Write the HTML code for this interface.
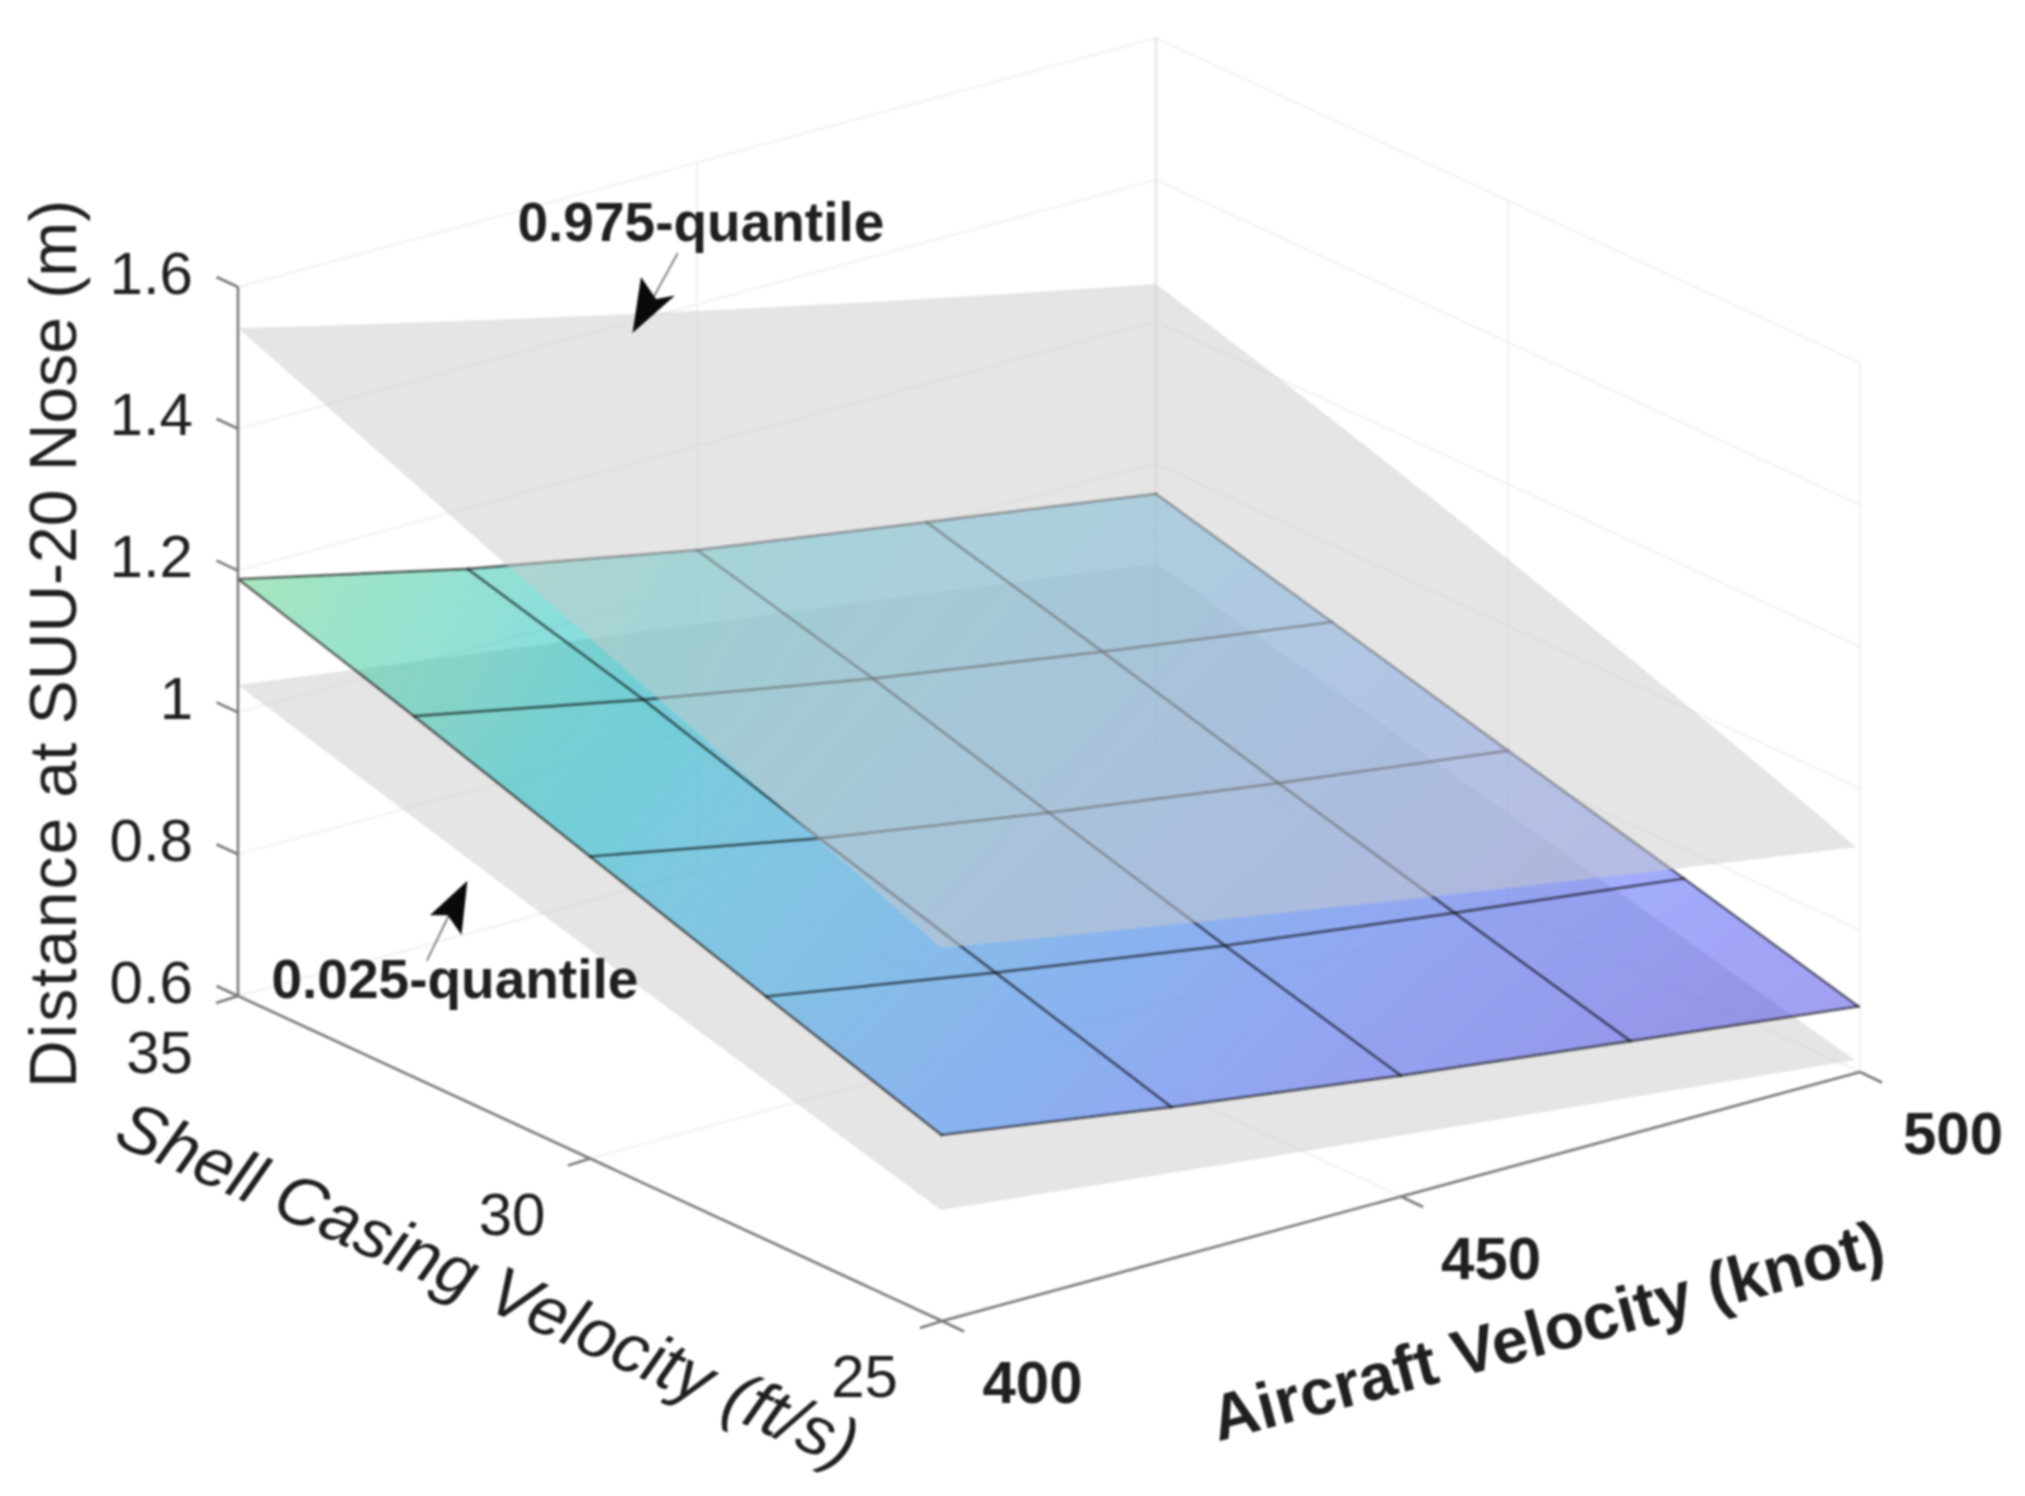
<!DOCTYPE html>
<html lang="en"><head><meta charset="utf-8"><title>Quantile surfaces</title>
<style>html,body{margin:0;padding:0;background:#fff;}svg{display:block;}</style></head>
<body>
<svg width="2025" height="1496" viewBox="0 0 2025 1496">
<rect width="2025" height="1496" fill="#ffffff"/>
<filter id="soft" x="0" y="0" width="100%" height="100%" filterUnits="userSpaceOnUse" color-interpolation-filters="sRGB"><feGaussianBlur stdDeviation="0.9"/></filter>
<g filter="url(#soft)">
<g stroke="#f3f3f3" stroke-width="2.4" fill="none" stroke-linecap="round">
<line x1="238.0" y1="996.0" x2="1156.0" y2="747.0"/>
<line x1="1156.0" y1="747.0" x2="1860.0" y2="1072.0"/>
<line x1="238.0" y1="854.2" x2="1156.0" y2="605.2"/>
<line x1="1156.0" y1="605.2" x2="1860.0" y2="930.2"/>
<line x1="238.0" y1="712.4" x2="1156.0" y2="463.4"/>
<line x1="1156.0" y1="463.4" x2="1860.0" y2="788.4"/>
<line x1="238.0" y1="570.6" x2="1156.0" y2="321.6"/>
<line x1="1156.0" y1="321.6" x2="1860.0" y2="646.6"/>
<line x1="238.0" y1="428.8" x2="1156.0" y2="179.8"/>
<line x1="1156.0" y1="179.8" x2="1860.0" y2="504.8"/>
<line x1="238.0" y1="287.0" x2="1156.0" y2="38.0"/>
<line x1="1156.0" y1="38.0" x2="1860.0" y2="363.0"/>
<line x1="697.0" y1="871.5" x2="697.0" y2="162.5"/>
<line x1="1156.0" y1="747.0" x2="1156.0" y2="38.0"/>
<line x1="1508.0" y1="909.5" x2="1508.0" y2="200.5"/>
<line x1="1860.0" y1="1072.0" x2="1860.0" y2="363.0"/>
<line x1="238.0" y1="996.0" x2="1156.0" y2="747.0"/>
<line x1="590.0" y1="1158.5" x2="1508.0" y2="909.5"/>
<line x1="697.0" y1="871.5" x2="1401.0" y2="1196.5"/>
<line x1="1156.0" y1="747.0" x2="1860.0" y2="1072.0"/>
</g>
<line x1="1156.0" y1="747.0" x2="1156.0" y2="38.0" stroke="#e6e6e6" stroke-width="2.4"/>
<path d="M238.0,685.0 L1156.0,563.0 L1855.0,1060.0 Q1398.0,1137.0 941.0,1210.0 Q589.5,951.5 238.0,685.0 Z" fill="#cccccc" fill-opacity="0.5"/>
<defs><linearGradient id="g00" gradientUnits="userSpaceOnUse" x1="676.3" y1="755.7" x2="203.9" y2="525.5"><stop offset="0.000" stop-color="#09b4d1"/><stop offset="0.167" stop-color="#02bac4"/><stop offset="0.333" stop-color="#18bfb6"/><stop offset="0.500" stop-color="#2cc4a7"/><stop offset="0.667" stop-color="#37c897"/><stop offset="0.833" stop-color="#4bcb83"/><stop offset="1.000" stop-color="#65cd6e"/></linearGradient><linearGradient id="g01" gradientUnits="userSpaceOnUse" x1="898.2" y1="753.8" x2="441.8" y2="494.5"><stop offset="0.000" stop-color="#20a5e2"/><stop offset="0.167" stop-color="#19addc"/><stop offset="0.333" stop-color="#0ab4d2"/><stop offset="0.500" stop-color="#01b9c6"/><stop offset="0.667" stop-color="#12beb9"/><stop offset="0.833" stop-color="#27c2ac"/><stop offset="1.000" stop-color="#33c69d"/></linearGradient><linearGradient id="g02" gradientUnits="userSpaceOnUse" x1="1091.0" y1="759.5" x2="708.7" y2="441.9"><stop offset="0.000" stop-color="#2895ec"/><stop offset="0.167" stop-color="#249de6"/><stop offset="0.333" stop-color="#1fa6e2"/><stop offset="0.500" stop-color="#19addc"/><stop offset="0.667" stop-color="#0bb3d2"/><stop offset="0.833" stop-color="#01b9c7"/><stop offset="1.000" stop-color="#0dbdbc"/></linearGradient><linearGradient id="g03" gradientUnits="userSpaceOnUse" x1="1310.9" y1="735.5" x2="947.3" y2="409.1"><stop offset="0.000" stop-color="#2e84f8"/><stop offset="0.167" stop-color="#2c8ef2"/><stop offset="0.333" stop-color="#2796eb"/><stop offset="0.500" stop-color="#249fe6"/><stop offset="0.667" stop-color="#1ea6e1"/><stop offset="0.833" stop-color="#18aedb"/><stop offset="1.000" stop-color="#09b4d1"/></linearGradient><linearGradient id="g10" gradientUnits="userSpaceOnUse" x1="815.8" y1="927.6" x2="417.3" y2="627.4"><stop offset="0.000" stop-color="#249ee6"/><stop offset="0.167" stop-color="#1ea7e1"/><stop offset="0.333" stop-color="#14b0d8"/><stop offset="0.500" stop-color="#03b7cc"/><stop offset="0.667" stop-color="#09bcbe"/><stop offset="0.833" stop-color="#22c1b0"/><stop offset="1.000" stop-color="#31c6a0"/></linearGradient><linearGradient id="g11" gradientUnits="userSpaceOnUse" x1="1027.7" y1="917.2" x2="663.7" y2="596.4"><stop offset="0.000" stop-color="#2d8cf3"/><stop offset="0.167" stop-color="#2896ec"/><stop offset="0.333" stop-color="#249fe5"/><stop offset="0.500" stop-color="#1da8e0"/><stop offset="0.667" stop-color="#14b0d8"/><stop offset="0.833" stop-color="#04b6cd"/><stop offset="1.000" stop-color="#06bcc0"/></linearGradient><linearGradient id="g12" gradientUnits="userSpaceOnUse" x1="1245.2" y1="897.2" x2="905.7" y2="565.3"><stop offset="0.000" stop-color="#337bfd"/><stop offset="0.167" stop-color="#2e85f8"/><stop offset="0.333" stop-color="#2c8ef1"/><stop offset="0.500" stop-color="#2797ea"/><stop offset="0.667" stop-color="#23a0e5"/><stop offset="0.833" stop-color="#1da8e0"/><stop offset="1.000" stop-color="#15afd8"/></linearGradient><linearGradient id="g13" gradientUnits="userSpaceOnUse" x1="1468.6" y1="870.1" x2="1141.2" y2="532.9"><stop offset="0.000" stop-color="#4269fe"/><stop offset="0.167" stop-color="#3a73fe"/><stop offset="0.333" stop-color="#317efb"/><stop offset="0.500" stop-color="#2d87f7"/><stop offset="0.667" stop-color="#2b90f0"/><stop offset="0.833" stop-color="#2699e9"/><stop offset="1.000" stop-color="#23a1e4"/></linearGradient><linearGradient id="g20" gradientUnits="userSpaceOnUse" x1="982.4" y1="1071.4" x2="601.7" y2="759.4"><stop offset="0.000" stop-color="#2e83f9"/><stop offset="0.167" stop-color="#2c8ef1"/><stop offset="0.333" stop-color="#2798ea"/><stop offset="0.500" stop-color="#22a1e4"/><stop offset="0.667" stop-color="#1caadf"/><stop offset="0.833" stop-color="#10b2d5"/><stop offset="1.000" stop-color="#01b8c9"/></linearGradient><linearGradient id="g21" gradientUnits="userSpaceOnUse" x1="1199.3" y1="1055.3" x2="844.9" y2="729.0"><stop offset="0.000" stop-color="#3e6fff"/><stop offset="0.167" stop-color="#337bfc"/><stop offset="0.333" stop-color="#2e85f8"/><stop offset="0.500" stop-color="#2c8ff1"/><stop offset="0.667" stop-color="#2798ea"/><stop offset="0.833" stop-color="#23a1e4"/><stop offset="1.000" stop-color="#1ca9df"/></linearGradient><linearGradient id="g22" gradientUnits="userSpaceOnUse" x1="1410.2" y1="1032.4" x2="1092.4" y2="693.8"><stop offset="0.000" stop-color="#465ffb"/><stop offset="0.167" stop-color="#4369fe"/><stop offset="0.333" stop-color="#3a73fe"/><stop offset="0.500" stop-color="#317efb"/><stop offset="0.667" stop-color="#2e87f7"/><stop offset="0.833" stop-color="#2b90f0"/><stop offset="1.000" stop-color="#2699e9"/></linearGradient><linearGradient id="g23" gradientUnits="userSpaceOnUse" x1="1636.2" y1="1001.9" x2="1325.9" y2="660.2"><stop offset="0.000" stop-color="#4850f2"/><stop offset="0.167" stop-color="#4759f8"/><stop offset="0.333" stop-color="#4562fc"/><stop offset="0.500" stop-color="#406cfe"/><stop offset="0.667" stop-color="#3876fe"/><stop offset="0.833" stop-color="#3080fa"/><stop offset="1.000" stop-color="#2d89f5"/></linearGradient><linearGradient id="g30" gradientUnits="userSpaceOnUse" x1="1135.9" y1="1218.1" x2="800.5" y2="886.7"><stop offset="0.000" stop-color="#4465fd"/><stop offset="0.167" stop-color="#3d70ff"/><stop offset="0.333" stop-color="#327cfc"/><stop offset="0.500" stop-color="#2e86f7"/><stop offset="0.667" stop-color="#2b90ef"/><stop offset="0.833" stop-color="#269ae9"/><stop offset="1.000" stop-color="#21a3e4"/></linearGradient><linearGradient id="g31" gradientUnits="userSpaceOnUse" x1="1363.5" y1="1191.9" x2="1031.9" y2="857.4"><stop offset="0.000" stop-color="#4854f5"/><stop offset="0.167" stop-color="#465efb"/><stop offset="0.333" stop-color="#4368fe"/><stop offset="0.500" stop-color="#3b73fe"/><stop offset="0.667" stop-color="#317efb"/><stop offset="0.833" stop-color="#2d88f6"/><stop offset="1.000" stop-color="#2b91ef"/></linearGradient><linearGradient id="g32" gradientUnits="userSpaceOnUse" x1="1579.9" y1="1164.7" x2="1275.2" y2="822.3"><stop offset="0.000" stop-color="#4745ea"/><stop offset="0.167" stop-color="#484ff2"/><stop offset="0.333" stop-color="#4758f8"/><stop offset="0.500" stop-color="#4561fc"/><stop offset="0.667" stop-color="#416bfe"/><stop offset="0.833" stop-color="#3975fe"/><stop offset="1.000" stop-color="#307ffb"/></linearGradient><linearGradient id="g33" gradientUnits="userSpaceOnUse" x1="1808.0" y1="1130.7" x2="1505.3" y2="788.3"><stop offset="0.000" stop-color="#4537d6"/><stop offset="0.167" stop-color="#4740e3"/><stop offset="0.333" stop-color="#4849ed"/><stop offset="0.500" stop-color="#4852f4"/><stop offset="0.667" stop-color="#475bf9"/><stop offset="0.833" stop-color="#4464fd"/><stop offset="1.000" stop-color="#3f6efe"/></linearGradient></defs>
<g fill-opacity="0.5" stroke="none" shape-rendering="crispEdges">
<path d="M238.0,579.0 L467.5,568.8 L643.5,699.6 L414.0,716.2 Z" fill="url(#g00)"/>
<path d="M467.5,568.8 L697.0,550.0 L873.0,678.6 L643.5,699.6 Z" fill="url(#g01)"/>
<path d="M697.0,550.0 L926.5,522.2 L1102.5,651.7 L873.0,678.6 Z" fill="url(#g02)"/>
<path d="M926.5,522.2 L1156.0,493.8 L1332.0,622.0 L1102.5,651.7 Z" fill="url(#g03)"/>
<path d="M414.0,716.2 L643.5,699.6 L819.5,838.3 L590.0,856.5 Z" fill="url(#g10)"/>
<path d="M643.5,699.6 L873.0,678.6 L1049.0,812.7 L819.5,838.3 Z" fill="url(#g11)"/>
<path d="M873.0,678.6 L1102.5,651.7 L1278.5,783.2 L1049.0,812.7 Z" fill="url(#g12)"/>
<path d="M1102.5,651.7 L1332.0,622.0 L1508.0,750.6 L1278.5,783.2 Z" fill="url(#g13)"/>
<path d="M590.0,856.5 L819.5,838.3 L995.5,972.6 L766.0,996.5 Z" fill="url(#g20)"/>
<path d="M819.5,838.3 L1049.0,812.7 L1225.0,945.6 L995.5,972.6 Z" fill="url(#g21)"/>
<path d="M1049.0,812.7 L1278.5,783.2 L1454.5,912.8 L1225.0,945.6 Z" fill="url(#g22)"/>
<path d="M1278.5,783.2 L1508.0,750.6 L1684.0,878.5 L1454.5,912.8 Z" fill="url(#g23)"/>
<path d="M766.0,996.5 L995.5,972.6 L1171.5,1107.1 L941.5,1135.0 Z" fill="url(#g30)"/>
<path d="M995.5,972.6 L1225.0,945.6 L1401.0,1075.6 L1171.5,1107.1 Z" fill="url(#g31)"/>
<path d="M1225.0,945.6 L1454.5,912.8 L1630.5,1041.1 L1401.0,1075.6 Z" fill="url(#g32)"/>
<path d="M1454.5,912.8 L1684.0,878.5 L1858.5,1006.5 L1630.5,1041.1 Z" fill="url(#g33)"/>
</g>
<g stroke="#000" stroke-opacity="0.55" stroke-width="2.7" fill="none" stroke-linejoin="round" stroke-linecap="round">
<polyline points="238.0,579.0 467.5,568.8 697.0,550.0 926.5,522.2 1156.0,493.8"/>
<polyline points="414.0,716.2 643.5,699.6 873.0,678.6 1102.5,651.7 1332.0,622.0"/>
<polyline points="590.0,856.5 819.5,838.3 1049.0,812.7 1278.5,783.2 1508.0,750.6"/>
<polyline points="766.0,996.5 995.5,972.6 1225.0,945.6 1454.5,912.8 1684.0,878.5"/>
<polyline points="941.5,1135.0 1171.5,1107.1 1401.0,1075.6 1630.5,1041.1 1858.5,1006.5"/>
<polyline points="238.0,579.0 414.0,716.2 590.0,856.5 766.0,996.5 941.5,1135.0"/>
<polyline points="467.5,568.8 643.5,699.6 819.5,838.3 995.5,972.6 1171.5,1107.1"/>
<polyline points="697.0,550.0 873.0,678.6 1049.0,812.7 1225.0,945.6 1401.0,1075.6"/>
<polyline points="926.5,522.2 1102.5,651.7 1278.5,783.2 1454.5,912.8 1630.5,1041.1"/>
<polyline points="1156.0,493.8 1332.0,622.0 1508.0,750.6 1684.0,878.5 1858.5,1006.5"/>
</g>
<path d="M238.0,328.0 Q697.0,316.0 1156.0,284.0 Q1506.0,549.5 1856.0,847.0 Q1398.5,903.5 941.0,948.0 L238.0,328.0 Z" fill="#cccccc" fill-opacity="0.5"/>
<g stroke="#7a7a7a" stroke-width="2.6" fill="none" stroke-linecap="butt">
<polyline points="238.0,287.0 238.0,996.0 942.0,1321.0 1860.0,1072.0"/>
<line x1="238.0" y1="996.0" x2="216.5" y2="986.0"/>
<line x1="238.0" y1="854.2" x2="216.5" y2="844.2"/>
<line x1="238.0" y1="712.4" x2="216.5" y2="702.4"/>
<line x1="238.0" y1="570.6" x2="216.5" y2="560.6"/>
<line x1="238.0" y1="428.8" x2="216.5" y2="418.8"/>
<line x1="238.0" y1="287.0" x2="216.5" y2="277.0"/>
<line x1="238.0" y1="996.0" x2="216.0" y2="1003.0"/>
<line x1="590.0" y1="1158.5" x2="568.0" y2="1165.5"/>
<line x1="942.0" y1="1321.0" x2="920.0" y2="1328.0"/>
<line x1="942.0" y1="1321.0" x2="964.0" y2="1331.5"/>
<line x1="1401.0" y1="1196.5" x2="1423.0" y2="1207.0"/>
<line x1="1860.0" y1="1072.0" x2="1882.0" y2="1082.5"/>
</g>
<g stroke="#7a7a7a" stroke-width="1.8" fill="none">
<line x1="677.8" y1="253" x2="652" y2="300"/>
<line x1="426.9" y1="960.7" x2="450" y2="913"/>
</g>
<path d="M632.5,333 L641,277 L656,299 L675,295.5 Z" fill="#0a0a0a"/>
<path d="M467.4,880.7 L429.9,915.3 L447.7,915.3 L461.5,935 Z" fill="#0a0a0a"/>
<g font-family="'Liberation Sans', Arial, Helvetica, sans-serif" fill="#1f1f1f">
<text x="193" y="1002.5" font-size="60" text-anchor="end">0.6</text>
<text x="193" y="860.7" font-size="60" text-anchor="end">0.8</text>
<text x="193" y="718.9" font-size="60" text-anchor="end">1</text>
<text x="193" y="577.1" font-size="60" text-anchor="end">1.2</text>
<text x="193" y="435.3" font-size="60" text-anchor="end">1.4</text>
<text x="193" y="293.5" font-size="60" text-anchor="end">1.6</text>
<text x="159.5" y="1073" font-size="60" text-anchor="middle">35</text>
<text x="512" y="1235" font-size="60" text-anchor="middle">30</text>
<text x="864.5" y="1397" font-size="60" text-anchor="middle">25</text>
<text x="1032.5" y="1403" font-size="60" font-weight="bold" text-anchor="middle">400</text>
<text x="1491" y="1279" font-size="60" font-weight="bold" text-anchor="middle">450</text>
<text x="1953" y="1154" font-size="60" font-weight="bold" text-anchor="middle">500</text>
<text x="517.5" y="241" font-size="55" font-weight="bold">0.975-quantile</text>
<text x="271.5" y="998" font-size="55" font-weight="bold">0.025-quantile</text>
<text transform="translate(76,1088) rotate(-90)" font-size="66"><tspan letter-spacing="1.9">Distance</tspan> at SUU-20 Nose (m)</text>
<text transform="translate(111.5,1142.5) rotate(24.0)" font-size="69" font-style="italic">Shell Casing Velocity (ft/s)</text>
<text transform="translate(1218,1441.5) rotate(-14.93)" font-size="65" font-weight="bold">Aircraft Velocity (knot)</text>
</g>
</g>
</svg>
</body></html>
